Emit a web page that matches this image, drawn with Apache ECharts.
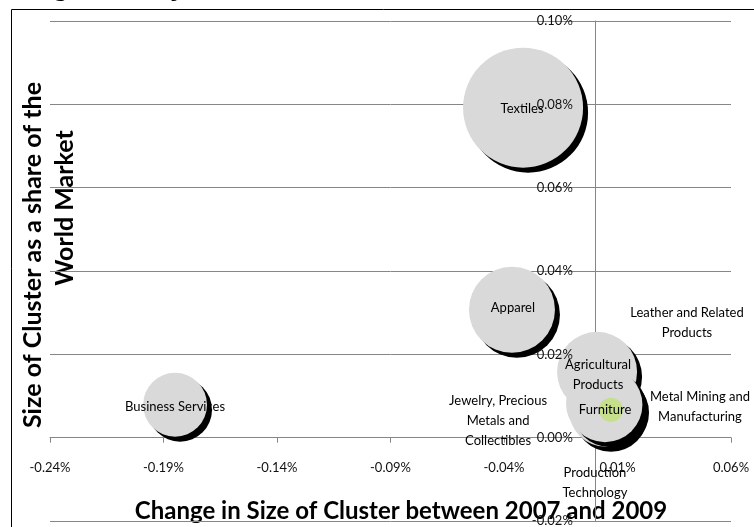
<!DOCTYPE html>
<html>
<head>
<meta charset="utf-8">
<script src="https://cdn.jsdelivr.net/npm/echarts@6/dist/echarts.min.js"></script>
<style>
html, body { margin: 0; padding: 0; background: #fff; }
#chart { width: 754px; height: 527px; }
</style>
</head>
<body>
<div id="chart"></div>
<script>
// clusters, in drawing order (later ones sit on top)
const clusters = ['Textiles', 'Apparel', 'Business Services', 'Leather and Related Products',
    'Metal Mining and Manufacturing', 'Jewelry, Precious Metals and Collectibles',
    'Production Technology', 'Agricultural Products', 'Furniture', 'Other'];
// change in size of cluster between 2007 and 2009 (%)
const sizeChange = [-0.0316, -0.0365, -0.1849, 0.0036, 0.0058, 0.0032, 0.0049, 0.0010, 0.0045, 0.0071];
// size of cluster as a share of the world market (%)
const worldShare = [0.0792, 0.0307, 0.0079, 0.0091, 0.0072, 0.0082, 0.0067, 0.0158, 0.0079, 0.0067];
// bubble size
const bubbleSize = [36, 18.5, 10.2, 13, 13, 13, 13.7, 16, 14, 1.44];
// labels as printed on the chart
const labelText = ['Textiles', 'Apparel', 'Business Services', 'Leather and Related\nProducts',
    'Metal Mining and\nManufacturing', 'Jewelry, Precious\nMetals and\nCollectibles',
    'Production\nTechnology', 'Agricultural\nProducts', 'Furniture', ''];
// axis ticks
const xMin = -0.24, xMax = 0.06, xStep = 0.05;
const yMin = -0.02, yMax = 0.10, yStep = 0.02;

// label placement (px from bubble centre) and colours
const labelOffset = [[-1, 1], [1, -2], [0, 2], [84, -77], [92, -1], [-104, 17], [-11, 73], [1, 3], [0, 5], [0, 0]];
const bubbleColor = ['#d9d9d9', '#d9d9d9', '#d9d9d9', '#d9d9d9', '#d9d9d9', '#d9d9d9', '#d9d9d9', '#d9d9d9', '#d9d9d9', '#c5df8c'];

const FONT = 'Lato, "Open Sans", sans-serif';
const pct = v => v.toFixed(2) + '%';

// plot area
const W = 754, H = 527;
const G = { left: 50, right: 23, top: 21, bottom: 6 };
const plotW = W - G.left - G.right, plotH = H - G.top - G.bottom;
// labels sit next to the zero lines, so shift the label-only axes there
const yLabelShift = -plotW * (0 - xMin) / (xMax - xMin);
const xLabelShift = -plotH * (0 - yMin) / (yMax - yMin);

const chart = echarts.init(document.getElementById('chart'));

const seriesData = clusters.map((name, i) => ({
    name: name,
    value: [sizeChange[i], worldShare[i], bubbleSize[i]],
    symbolSize: 20 * Math.sqrt(bubbleSize[i]),
    itemStyle: {
        color: bubbleColor[i],
        opacity: 1,
        shadowColor: i === 9 ? 'rgba(0,0,0,0)' : '#000',
        shadowBlur: 0, shadowOffsetX: 5, shadowOffsetY: 5
    },
    label: {
        show: labelText[i] !== '',
        position: 'inside',
        offset: labelOffset[i],
        formatter: labelText[i],
        color: '#000', fontFamily: FONT, fontSize: 13, lineHeight: 20
    }
}));

const tickLabel = { formatter: pct, color: '#111', fontFamily: FONT, fontSize: 13 };

const option = {
    animation: false,
    grid: Object.assign({ containLabel: false, outerBoundsMode: 'none' }, G),
    xAxis: [
        {
            type: 'value', min: xMin, max: xMax, interval: xStep, position: 'bottom',
            axisLine: { onZero: true, onZeroAxisIndex: 0, lineStyle: { color: '#868686', width: 1 } },
            axisTick: { show: true, length: 5, lineStyle: { color: '#868686' } },
            axisLabel: { show: false },
            splitLine: { show: false }
        },
        {
            // labels only
            type: 'value', min: xMin, max: xMax, interval: xStep, position: 'bottom', offset: xLabelShift, z: 10,
            axisLine: { show: false, onZero: false },
            axisTick: { show: false },
            axisLabel: Object.assign({ margin: 24 }, tickLabel),
            splitLine: { show: false }
        }
    ],
    yAxis: [
        {
            type: 'value', min: yMin, max: yMax, interval: yStep, position: 'left',
            axisLine: { show: true, onZero: true, onZeroAxisIndex: 0, lineStyle: { color: '#868686', width: 1 } },
            axisTick: { show: true, length: 5, lineStyle: { color: '#868686' } },
            axisLabel: { show: false },
            splitLine: { show: true, lineStyle: { color: '#868686', width: 1 } }
        },
        {
            // labels only, drawn above the bubbles
            type: 'value', min: yMin, max: yMax, interval: yStep, position: 'left', offset: yLabelShift, z: 10,
            axisLine: { show: false, onZero: false },
            axisTick: { show: false },
            axisLabel: Object.assign({ margin: 22 }, tickLabel),
            splitLine: { show: false }
        }
    ],
    series: [{
        type: 'scatter',
        xAxisIndex: 0,
        yAxisIndex: 0,
        data: seriesData,
        emphasis: { disabled: true }
    }],
    graphic: [
        { type: 'rect', shape: { x: 11.5, y: 9.5, width: 900, height: 900 },
          style: { fill: 'none', stroke: '#000', lineWidth: 1 }, silent: true },
        { type: 'text', x: 32, y: 2,
          style: { text: 'Figure 3: Major Clusters', font: 'bold 25px "Liberation Serif"', fill: '#000',
                   align: 'left', verticalAlign: 'bottom' } },
        { type: 'text', x: 33, y: 255, rotation: Math.PI / 2,
          style: { text: 'Size of Cluster as a share of the', font: 'bold 25px ' + FONT, fill: '#000',
                   align: 'center', verticalAlign: 'middle' } },
        { type: 'text', x: 65, y: 208, rotation: Math.PI / 2,
          style: { text: 'World Market', font: 'bold 25px ' + FONT, fill: '#000',
                   align: 'center', verticalAlign: 'middle' } },
        { type: 'text', x: 401, y: 511,
          style: { text: 'Change in Size of Cluster between 2007 and 2009', font: 'bold 24px ' + FONT, fill: '#000',
                   align: 'center', verticalAlign: 'middle' } }
    ]
};

chart.setOption(option);
</script>
</body>
</html>
